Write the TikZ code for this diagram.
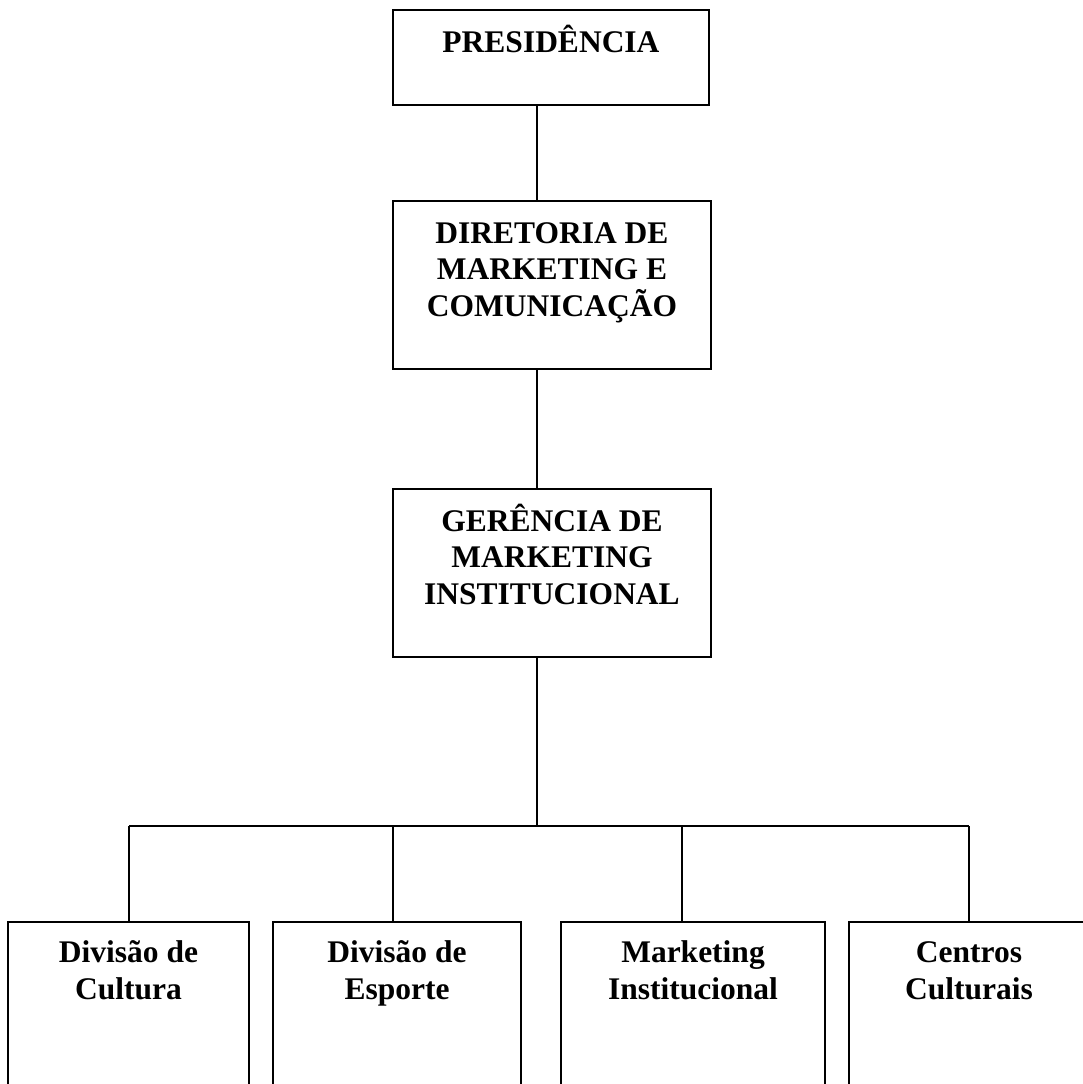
\documentclass[tikz,border=0pt]{standalone}
\usepackage{fontspec}
\setmainfont{Liberation Serif}
\tikzset{
	unidade/.style={draw, line width=2pt, inner sep=0pt},
	rotulo/.style={anchor=base, align=center, inner sep=0pt, font=\fontsize{31.5}{36.5}\selectfont\bfseries},
	ligacao/.style={line width=1.6pt}
}
\begin{document}
\begin{tikzpicture}[x=1pt, y=-1pt]
	\path[use as bounding box, clip] (0,0) rectangle (1083,1084);
	% caixas
		\node[unidade, minimum width=316pt, minimum height=95pt] (P) at (551,57.5) {};
		\node[unidade, minimum width=318pt, minimum height=168pt] (D) at (552,285) {};
		\node[unidade, minimum width=318pt, minimum height=168pt] (G) at (552,573) {};
		\node[unidade, minimum width=241pt, minimum height=220pt] (V1) at (128.5,1032) {};
		\node[unidade, minimum width=248pt, minimum height=220pt] (V2) at (397,1032) {};
		\node[unidade, minimum width=264pt, minimum height=220pt] (V3) at (693,1032) {};
		\node[unidade, minimum width=240pt, minimum height=220pt] (V4) at (969,1032) {};
	% textos (base = linha de base da ultima linha)
		\node[rotulo] (tP) at (551,52) {PRESIDÊNCIA};
		\node[rotulo] (tD) at (552,316) {DIRETORIA DE\\MARKETING E\\COMUNICAÇÃO};
		\node[rotulo] (tG) at (552,604) {GERÊNCIA DE\\MARKETING\\INSTITUCIONAL};
		\node[rotulo] (t1) at (128.5,999) {Divisão de\\Cultura};
		\node[rotulo] (t2) at (397,999) {Divisão de\\Esporte};
		\node[rotulo] (t3) at (693,999) {Marketing\\Institucional};
		\node[rotulo] (t4) at (969,999) {Centros\\Culturais};
	% ligacoes
		\coordinate (S) at (537,826);
		\coordinate (d1) at (129,826);
		\coordinate (d2) at (393,826);
		\coordinate (d3) at (682,826);
		\coordinate (d4) at (969,826);
		\draw[ligacao] (P.south -| S) -- (D.north -| S);
		\draw[ligacao] (D.south -| S) -- (G.north -| S);
		\draw[ligacao] (G.south -| S) -- (S);
		\draw[ligacao] (d1) -- (d4);
		\foreach \i in {1,...,4}
			\draw[ligacao] (d\i) -- (d\i |- V\i.north);
\end{tikzpicture}
\end{document}
